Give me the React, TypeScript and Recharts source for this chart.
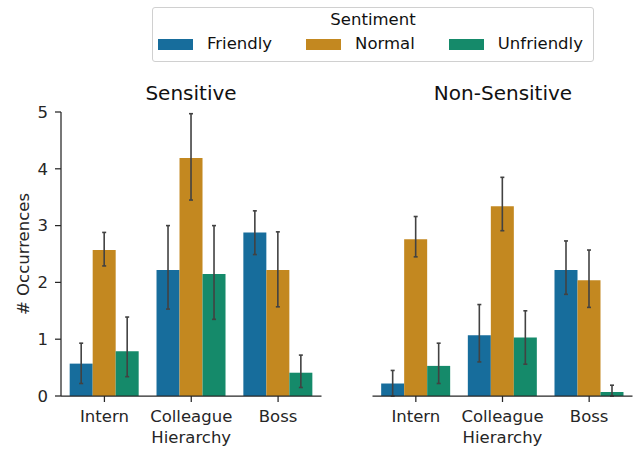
import React from 'react';
import { BarChart, Bar, XAxis, YAxis, ErrorBar } from 'recharts';

const hierarchy = ['Intern', 'Colleague', 'Boss'];
const sentiments = ['Friendly', 'Normal', 'Unfriendly'];
const colors = ['#176d9c', '#c38820', '#158a6a'];
const yTicks = [0, 1, 2, 3, 4, 5];

// Sensitive panel: means and CI bounds per hierarchy
const sensFriendly = [0.57, 2.22, 2.88];
const sensFriendlyLo = [0.22, 1.53, 2.49];
const sensFriendlyHi = [0.93, 3.0, 3.26];
const sensNormal = [2.57, 4.19, 2.22];
const sensNormalLo = [2.29, 3.45, 1.57];
const sensNormalHi = [2.88, 4.97, 2.89];
const sensUnfriendly = [0.79, 2.15, 0.41];
const sensUnfriendlyLo = [0.34, 1.35, 0.15];
const sensUnfriendlyHi = [1.39, 3.0, 0.72];

// Non-Sensitive panel
const nonFriendly = [0.22, 1.07, 2.22];
const nonFriendlyLo = [0.0, 0.6, 1.79];
const nonFriendlyHi = [0.45, 1.61, 2.73];
const nonNormal = [2.76, 3.34, 2.04];
const nonNormalLo = [2.45, 2.91, 1.56];
const nonNormalHi = [3.16, 3.85, 2.57];
const nonUnfriendly = [0.53, 1.03, 0.07];
const nonUnfriendlyLo = [0.22, 0.56, 0.0];
const nonUnfriendlyHi = [0.93, 1.5, 0.19];

const FONT = '"DejaVu Sans", sans-serif';
const INK = '#262626';

type Series = { mean: number[]; lo: number[]; hi: number[] };

const buildRows = (series: Series[]) =>
  hierarchy.map((name, i) => {
    const row: Record<string, any> = { name };
    series.forEach((s, k) => {
      const key = sentiments[k];
      row[key] = s.mean[i];
      row[key + 'Err'] = [s.mean[i] - s.lo[i], s.hi[i] - s.mean[i]];
    });
    return row;
  });

const sensitiveData = buildRows([
  { mean: sensFriendly, lo: sensFriendlyLo, hi: sensFriendlyHi },
  { mean: sensNormal, lo: sensNormalLo, hi: sensNormalHi },
  { mean: sensUnfriendly, lo: sensUnfriendlyLo, hi: sensUnfriendlyHi },
]);

const nonSensitiveData = buildRows([
  { mean: nonFriendly, lo: nonFriendlyLo, hi: nonFriendlyHi },
  { mean: nonNormal, lo: nonNormalLo, hi: nonNormalHi },
  { mean: nonUnfriendly, lo: nonUnfriendlyLo, hi: nonUnfriendlyHi },
]);

interface PanelProps {
  data: Record<string, any>[];
  left: number;
  width: number;
  margin: { top: number; right: number; bottom: number; left: number };
  showY: boolean;
}

const Panel: React.FC<PanelProps> = ({ data, left, width, margin, showY }) => (
  <div style={{ position: 'absolute', left, top: 0 }}>
    <BarChart
      width={width}
      height={451}
      data={data}
      margin={margin}
      barCategoryGap="10%"
      barGap={0}
    >
      <XAxis
        dataKey="name"
        height={50}
        stroke={INK}
        strokeWidth={1.25}
        tickSize={6}
        tickMargin={8}
        tick={{ fill: INK, fontSize: 16.5, fontFamily: FONT }}
        label={{
          value: 'Hierarchy',
          position: 'insideBottom',
          offset: 3,
          fill: INK,
          fontSize: 16.5,
          fontFamily: FONT,
        }}
      />
      {showY ? (
        <YAxis
          width={46}
          domain={[0, 5]}
          ticks={yTicks}
          stroke={INK}
          strokeWidth={1.25}
          tickSize={6}
          tickMargin={7}
          tick={{ fill: INK, fontSize: 16.5, fontFamily: FONT }}
          label={{
            value: '# Occurrences',
            angle: -90,
            position: 'insideLeft',
            offset: 8.5,
            fill: INK,
            fontSize: 16.5,
            fontFamily: FONT,
            style: { textAnchor: 'middle' },
          }}
        />
      ) : (
        <YAxis hide width={0} domain={[0, 5]} ticks={yTicks} />
      )}
      {sentiments.map((s, k) => (
        <Bar key={s} dataKey={s} fill={colors[k]} isAnimationActive={false}>
          <ErrorBar
            dataKey={s + 'Err'}
            direction="y"
            width={2}
            stroke="#424242"
            strokeWidth={1.6}
            isAnimationActive={false}
          />
        </Bar>
      ))}
    </BarChart>
  </div>
);

const titleStyle = (center: number): React.CSSProperties => ({
  position: 'absolute',
  left: center - 100,
  width: 200,
  top: 81,
  textAlign: 'center',
  fontFamily: FONT,
  fontSize: 20,
  color: '#111',
  lineHeight: '24px',
});

const App: React.FC = () => (
  <div
    style={{
      position: 'absolute',
      left: 0,
      top: 0,
      width: 633,
      height: 451,
      background: '#fff',
      overflow: 'hidden',
    }}
  >
    <Panel
      data={sensitiveData}
      left={0}
      width={330}
      margin={{ top: 112, right: 8.5, bottom: 5, left: 15 }}
      showY
    />
    <Panel
      data={nonSensitiveData}
      left={330}
      width={303}
      margin={{ top: 112, right: 0.5, bottom: 5, left: 42.5 }}
      showY={false}
    />
    <div style={titleStyle(191)}>Sensitive</div>
    <div style={titleStyle(503)}>Non-Sensitive</div>

    {/* legend */}
    <div
      style={{
        position: 'absolute',
        left: 152,
        top: 7,
        width: 440,
        height: 53,
        border: '1px solid #d0d0d0',
        borderRadius: 3,
        fontFamily: FONT,
        fontSize: 16.5,
        color: '#111',
      }}
    >
      <div style={{ textAlign: 'center', marginTop: 2, lineHeight: '20px' }}>Sentiment</div>
      <div style={{ display: 'flex', alignItems: 'center', marginTop: 4, paddingLeft: 5 }}>
        {sentiments.map((s, k) => (
          <div key={s} style={{ display: 'flex', alignItems: 'center', marginRight: k < 2 ? 34 : 0 }}>
            <div style={{ width: 35, height: 11, background: colors[k], marginRight: 14 }} />
            <span style={{ lineHeight: '20px' }}>{s}</span>
          </div>
        ))}
      </div>
    </div>
  </div>
);

export default App;
